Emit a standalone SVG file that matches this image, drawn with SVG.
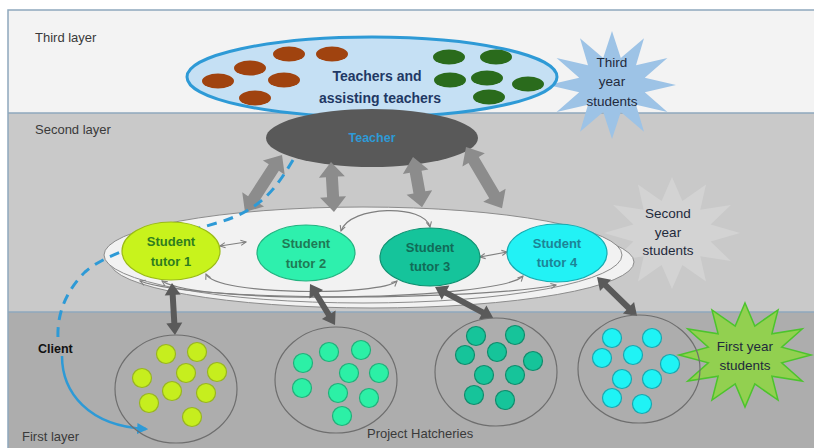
<svg xmlns="http://www.w3.org/2000/svg" width="814" height="448" viewBox="0 0 814 448">
<style>
.lbl{font-family:"Liberation Sans",Arial,sans-serif;font-size:13px;fill:#3a3a3a}
.tut{font-family:"Liberation Sans",Arial,sans-serif;font-size:13px;font-weight:bold;text-anchor:middle}
.star{font-family:"Liberation Sans",Arial,sans-serif;font-size:13.5px;fill:#1f2a3c;text-anchor:middle}
.blk{fill:#8c8c8c}
.dk{fill:#5a5a5a}
.thin{fill:none;stroke:#7f7f7f;stroke-width:1.2;marker-start:url(#v);marker-end:url(#v)}
.brn{fill:#a0430f}
.grn{fill:#2a6b1c}
.hat{fill:none;stroke:#6e6e6e;stroke-width:1.2}
.d1{fill:#c6ee1e;stroke:#98b520;stroke-width:1.2}
.d2{fill:#2cf0a6;stroke:#20b07a;stroke-width:1.2}
.d3{fill:#16c49a;stroke:#0f8c6c;stroke-width:1.2}
.d4{fill:#1ff3f5;stroke:#18a8b0;stroke-width:1.2}
</style>
<defs>
<marker id="v" viewBox="0 0 8 8" refX="7" refY="4" markerWidth="7" markerHeight="7" markerUnits="userSpaceOnUse" orient="auto-start-reverse">
<path d="M1,1 L7,4 L1,7" fill="none" stroke="#7f7f7f" stroke-width="1.2"/>
</marker>
<marker id="ba" viewBox="0 0 10 10" refX="8" refY="5" markerWidth="11" markerHeight="11" markerUnits="userSpaceOnUse" orient="auto">
<path d="M0,0 L10,5 L0,10 Z" fill="#2e9ad6"/>
</marker>
</defs>

<!-- layers -->
<g id="layers">
<rect x="0" y="0" width="814" height="448" fill="#ffffff"/>
<rect x="8" y="10" width="806" height="103" fill="#f3f3f3"/>
<rect x="8" y="113" width="806" height="199" fill="#c9c9c9"/>
<rect x="8" y="312" width="806" height="136" fill="#adadad"/>
<path d="M8,448 V10 H814 M8,113 H814 M8,312 H814" fill="none" stroke="#8fa8bd" stroke-width="1.5"/>
<text class="lbl" x="35" y="42">Third layer</text>
<text class="lbl" x="35" y="134">Second layer</text>
<text class="lbl" x="22" y="441">First layer</text>
<text class="lbl" x="367" y="438">Project Hatcheries</text>
</g>

<!-- stars -->
<g id="star-second">
<polygon points="672,177 682.4,201.1 706,184.5 700.3,209.7 730.9,205 710.6,224.5 740,233 710.6,241.5 730.9,261 700.3,256.3 706,281.5 682.4,264.9 672,289 661.6,264.9 638,281.5 643.7,256.3 613.1,261 633.4,241.5 604,233 633.4,224.5 613.1,205 643.7,209.7 638,184.5 661.6,201.1" fill="#d3d3d3"/>
<text class="star" x="668" y="218" fill="#262626">Second</text>
<text class="star" x="668" y="237" fill="#262626">year</text>
<text class="star" x="668" y="255" fill="#262626">students</text>
</g>
<g id="star-third">
<polygon points="612,31 620.8,58 644,38.2 636,65.2 667.4,58 644.8,77.7 676,85 644.8,92.3 667.4,112 636,104.8 644,131.8 620.8,112 612,139 603.2,112 580,131.8 588,104.8 556.6,112 579.2,92.3 548,85 579.2,77.7 556.6,58 588,65.2 580,38.2 603.2,58" fill="#9dc3e6"/>
<text class="star" x="612" y="67">Third</text>
<text class="star" x="612" y="86">year</text>
<text class="star" x="612" y="106">students</text>
</g>
<g id="star-first">
<polygon points="745,303 754.8,326 778,310 771.9,333.8 802.2,329 781.7,347.2 811,355 781.7,362.8 802.2,381 771.9,376.2 778,400 754.8,384 745,407 735.2,384 712,400 718.1,376.2 687.8,381 708.3,362.8 679,355 708.3,347.2 687.8,329 718.1,333.8 712,310 735.2,326" fill="#92d050" stroke="#4cc42c" stroke-width="1.5"/>
<text class="star" x="745" y="351">First year</text>
<text class="star" x="745" y="370">students</text>
</g>

<!-- third layer: teachers -->
<g id="teachers">
<ellipse cx="372" cy="77" rx="185" ry="40" fill="#c5e0f4" stroke="#2e9ad6" stroke-width="3"/>
<ellipse class="brn" cx="289" cy="54" rx="16" ry="7.5"/>
<ellipse class="brn" cx="332" cy="54" rx="16" ry="7.5"/>
<ellipse class="brn" cx="250" cy="68" rx="16" ry="7.5"/>
<ellipse class="brn" cx="284" cy="80" rx="16" ry="7.5"/>
<ellipse class="brn" cx="218" cy="81" rx="16" ry="7.5"/>
<ellipse class="brn" cx="255" cy="98" rx="16" ry="7.5"/>
<ellipse class="grn" cx="449" cy="57" rx="16" ry="7.5"/>
<ellipse class="grn" cx="496" cy="57" rx="16" ry="7.5"/>
<ellipse class="grn" cx="450" cy="80" rx="16" ry="7.5"/>
<ellipse class="grn" cx="487" cy="78" rx="16" ry="7.5"/>
<ellipse class="grn" cx="528" cy="84" rx="16" ry="7.5"/>
<ellipse class="grn" cx="489" cy="97" rx="16" ry="7.5"/>
<text x="377" y="81" font-family="Liberation Sans,Arial,sans-serif" font-size="14" font-weight="bold" fill="#1f3864" text-anchor="middle">Teachers and</text>
<text x="380" y="103" font-family="Liberation Sans,Arial,sans-serif" font-size="14" font-weight="bold" fill="#1f3864" text-anchor="middle">assisting teachers</text>
</g>

<!-- second layer group ellipse -->
<g id="tutor-group">
<ellipse cx="372" cy="262" rx="262" ry="46" fill="#f2f2f2" stroke="#8c8c8c" stroke-width="1"/>
<ellipse cx="363" cy="255" rx="259" ry="48" fill="#f2f2f2" stroke="#8c8c8c" stroke-width="1"/>
</g>

<g id="teacher">
<ellipse cx="372" cy="138" rx="106" ry="29" fill="#595959"/>
<text x="372" y="142" font-family="Liberation Sans,Arial,sans-serif" font-size="12.5" font-weight="bold" fill="#2e9ad6" text-anchor="middle">Teacher</text>
</g>

<!-- connectors -->
<g id="connectors">
<polygon class="blk" transform="translate(282,155) rotate(123)" points="0,0 15,-13 15,-6 53,-6 53,-13 68,0 53,13 53,6 15,6 15,13"/>
<polygon class="blk" transform="translate(331,162) rotate(86.6)" points="0,0 15,-13 15,-6 35,-6 35,-13 50,0 35,13 35,6 15,6 15,13"/>
<polygon class="blk" transform="translate(413,157) rotate(79.8)" points="0,0 15,-13 15,-6 36,-6 36,-13 51,0 36,13 36,6 15,6 15,13"/>
<polygon class="blk" transform="translate(466,147) rotate(59.5)" points="0,0 15,-13 15,-6 56,-6 56,-13 71,0 56,13 56,6 15,6 15,13"/>
<path d="M293,160 C275,190 260,210 220,222 C160,240 110,250 85,272 C65,292 57,315 58,338" fill="none" stroke="#2e9ad6" stroke-width="3" stroke-dasharray="10,7"/>
<path d="M62,356 C62,392 88,426 146,429" fill="none" stroke="#2e9ad6" stroke-width="2.5" marker-end="url(#ba)"/>
<path class="thin" d="M220,246 L246,242"/>
<path class="thin" d="M480,257 L507,252"/>
<path class="thin" d="M341,231 C350,205 425,204 430,227"/>
<path class="thin" d="M206,274 C216,296 380,296 397,281"/>
<path class="thin" d="M162,281 C200,306 500,300 523,276"/>
<path class="thin" d="M140,281 C200,303 480,300 556,285"/>
<polygon class="dk" transform="translate(172,283) rotate(86.7)" points="0,0 12,-8 12,-3 40,-3 40,-8 52,0 40,8 40,3 12,3 12,8"/>
<polygon class="dk" transform="translate(310,284) rotate(58.6)" points="0,0 12,-8 12,-3 36,-3 36,-8 48,0 36,8 36,3 12,3 12,8"/>
<polygon class="dk" transform="translate(435,287) rotate(28.1)" points="0,0 12,-8 12,-3 54,-3 54,-8 66,0 54,8 54,3 12,3 12,8"/>
<polygon class="dk" transform="translate(597,277) rotate(44.3)" points="0,0 12,-8 12,-3 44,-3 44,-8 56,0 44,8 44,3 12,3 12,8"/>
</g>

<!-- tutors -->
<g id="tutor1">
<ellipse cx="171" cy="251" rx="49" ry="29" fill="#c8f31c" stroke="#9abb15" stroke-width="1.2"/>
<text class="tut" x="171" y="246" fill="#2f7d1f">Student</text>
<text class="tut" x="171" y="266" fill="#2f7d1f">tutor 1</text>
</g>
<g id="tutor2">
<ellipse cx="306" cy="253" rx="49" ry="28" fill="#2ef0ad" stroke="#22b380" stroke-width="1.2"/>
<text class="tut" x="306" y="248" fill="#1f7a55">Student</text>
<text class="tut" x="306" y="268" fill="#1f7a55">tutor 2</text>
</g>
<g id="tutor3">
<ellipse cx="430" cy="257" rx="50" ry="29" fill="#15c49b" stroke="#0e9070" stroke-width="1.2"/>
<text class="tut" x="430" y="252" fill="#116b57">Student</text>
<text class="tut" x="430" y="271" fill="#116b57">tutor 3</text>
</g>
<g id="tutor4">
<ellipse cx="557" cy="253" rx="50" ry="29" fill="#22f2f5" stroke="#16aab0" stroke-width="1.2"/>
<text class="tut" x="557" y="248" fill="#1c8497">Student</text>
<text class="tut" x="557" y="267" fill="#1c8497">tutor 4</text>
</g>

<!-- first layer -->
<g id="client">
<text x="38" y="353" font-family="Liberation Sans,Arial,sans-serif" font-size="12.5" font-weight="bold" fill="#111">Client</text>
</g>
<g id="hatchery1">
<ellipse class="hat" cx="176" cy="389" rx="61" ry="54"/>
<circle class="d1" cx="166" cy="354" r="9.5" stroke="#e8752a"/>
<circle class="d1" cx="197" cy="352" r="9.5"/>
<circle class="d1" cx="142" cy="378" r="9.5"/>
<circle class="d1" cx="186" cy="373" r="9.5"/>
<circle class="d1" cx="217" cy="372" r="9.5"/>
<circle class="d1" cx="172" cy="391" r="9.5"/>
<circle class="d1" cx="206" cy="393" r="9.5"/>
<circle class="d1" cx="149" cy="403" r="9.5"/>
<circle class="d1" cx="192" cy="417" r="9.5"/>
</g>
<g id="hatchery2">
<ellipse class="hat" cx="336" cy="380" rx="61" ry="53"/>
<circle class="d2" cx="303" cy="363" r="9.5"/>
<circle class="d2" cx="329" cy="352" r="9.5"/>
<circle class="d2" cx="361" cy="350" r="9.5" stroke="#c9905e"/>
<circle class="d2" cx="349" cy="373" r="9.5"/>
<circle class="d2" cx="379" cy="373" r="9.5"/>
<circle class="d2" cx="302" cy="388" r="9.5"/>
<circle class="d2" cx="338" cy="393" r="9.5"/>
<circle class="d2" cx="369" cy="398" r="9.5"/>
<circle class="d2" cx="342" cy="416" r="9.5"/>
</g>
<g id="hatchery3">
<ellipse class="hat" cx="496" cy="372" rx="61" ry="54"/>
<circle class="d3" cx="476" cy="336" r="9.5"/>
<circle class="d3" cx="515" cy="335" r="9.5"/>
<circle class="d3" cx="465" cy="355" r="9.5"/>
<circle class="d3" cx="497" cy="352" r="9.5" stroke="#b8605a"/>
<circle class="d3" cx="533" cy="361" r="9.5"/>
<circle class="d3" cx="484" cy="375" r="9.5"/>
<circle class="d3" cx="515" cy="375" r="9.5"/>
<circle class="d3" cx="474" cy="395" r="9.5"/>
<circle class="d3" cx="505" cy="400" r="9.5"/>
</g>
<g id="hatchery4">
<ellipse class="hat" cx="639" cy="369" rx="61" ry="54"/>
<circle class="d4" cx="612" cy="338" r="9.5"/>
<circle class="d4" cx="652" cy="338" r="9.5"/>
<circle class="d4" cx="602" cy="358" r="9.5"/>
<circle class="d4" cx="633" cy="355" r="9.5"/>
<circle class="d4" cx="670" cy="364" r="9.5"/>
<circle class="d4" cx="622" cy="379" r="9.5"/>
<circle class="d4" cx="652" cy="379" r="9.5"/>
<circle class="d4" cx="612" cy="398" r="9.5"/>
<circle class="d4" cx="642" cy="404" r="9.5"/>
</g>
</svg>
